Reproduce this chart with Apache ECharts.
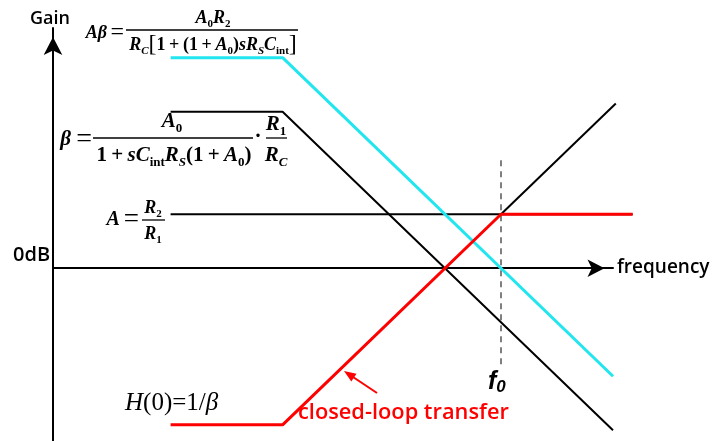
<!DOCTYPE html>
<html>
<head>
<meta charset="utf-8">
<script src="https://cdn.jsdelivr.net/npm/echarts@6/dist/echarts.min.js"></script>
<style>
  html, body { margin: 0; padding: 0; background: #fff; }
  #chart { width: 713px; height: 441px; }
</style>
</head>
<body>
<div id="chart"></div>
<script>
// Asymptotic Bode sketch: x = log10(frequency) in decades, y = gain in dB (20 dB/decade slopes)
const loopGainX = [2.1, 4.1, 10];        // Aβ
const loopGainY = [78, 78, -40];
const betaX = [2.1, 4.1, 10];            // β
const betaY = [58, 58, -60];
const gainAX = [2.1, 10.35];             // A = R2/R1
const gainAY = [20, 20];
const invBetaX = [8, 10.05];             // 1/β above the A level
const invBetaY = [20, 61];
const closedLoopX = [2.1, 4.1, 8, 10.35];  // closed-loop transfer
const closedLoopY = [-58, -58, 20, 20];
const f0X = [8, 8];                      // crossover frequency f0
const f0Y = [40, -37];

// axis ranges
const X_AXIS_END = 10;      // where the frequency arrow ends
const X_DATA_END = 10.35;   // widest plotted point
const Y_MIN = -64, Y_MAX = 89;

const pairs = (xs, ys) => xs.map((x, i) => [x, ys[i]]);

const SERIF = "'Liberation Serif', 'DejaVu Serif', serif";
const SANS = "'Open Sans', 'Liberation Sans', sans-serif";
const TS = '\u2009';  // thin space used around operators

function mathStyles(size) {
  const sub = Math.round(size * 0.6);
  return {
    v: { fontFamily: SERIF, fontSize: size, fontStyle: 'italic', fontWeight: 'bold', fill: '#000', lineHeight: size + 6 },
    n: { fontFamily: SERIF, fontSize: size, fontWeight: 'bold', fill: '#000', lineHeight: size + 6 },
    e: { fontFamily: SERIF, fontSize: Math.round(size * 1.35), fill: '#000', lineHeight: size + 6 },
    b: { fontFamily: SERIF, fontSize: size + 6, fill: '#000', lineHeight: size + 6 },
    s: { fontFamily: SERIF, fontSize: sub, fontStyle: 'italic', fontWeight: 'bold', fill: '#000', lineHeight: sub, verticalAlign: 'bottom' },
    d: { fontFamily: SERIF, fontSize: sub, fontWeight: 'bold', fill: '#000', lineHeight: sub, verticalAlign: 'bottom' }
  };
}

function mathText(x, y, text, size, align) {
  return {
    type: 'text', x: x, y: y, z: 10,
    style: {
      text: text, align: align || 'center', verticalAlign: 'middle',
      fontFamily: SERIF, fontSize: size, fill: '#000',
      rich: mathStyles(size)
    }
  };
}

function bar(x1, x2, y) {
  return { type: 'line', z: 10, shape: { x1: x1, y1: y, x2: x2, y2: y }, style: { stroke: '#000', lineWidth: 1.3 } };
}

function plainText(x, y, text, size, color, extra) {
  return {
    type: 'text', x: x, y: y, z: 10,
    style: Object.assign({
      text: text, align: 'left', verticalAlign: 'middle',
      fontFamily: SANS, fontSize: size, fontWeight: 600, fill: color
    }, extra || {})
  };
}

const lineSeries = (name, data, color, width, extra) => Object.assign({
  name: name, type: 'line', data: data, showSymbol: false, symbol: 'none',
  xAxisIndex: 1, yAxisIndex: 1,
  clip: false, silent: true, animation: false,
  lineStyle: { color: color, width: width }
}, extra || {});

const hiddenParts = { axisTick: { show: false }, axisLabel: { show: false }, splitLine: { show: false } };

// grid 0 carries the drawn axes (arrow ends at X_AXIS_END); grid 1 has the same scale but reaches X_DATA_END
const PX_PER_DECADE = 56;
const GRID_LEFT = 53;
const axisRight = 713 - GRID_LEFT - PX_PER_DECADE * X_AXIS_END;
const dataRight = 713 - GRID_LEFT - PX_PER_DECADE * X_DATA_END;

const chart = echarts.init(document.getElementById('chart'), null, { renderer: 'canvas' });

chart.setOption({
  backgroundColor: '#fff',
  animation: false,
  grid: [
    { left: GRID_LEFT, right: axisRight, top: 28, bottom: 0 },
    { left: GRID_LEFT, right: dataRight, top: 28, bottom: 0 }
  ],
  xAxis: [
    Object.assign({
      gridIndex: 0, type: 'value', min: 0, max: X_AXIS_END,
      axisLine: { onZero: true, lineStyle: { color: '#000', width: 2 }, symbol: ['none', 'arrow'], symbolSize: [13, 17], symbolOffset: [0, -8.5] }
    }, hiddenParts),
    Object.assign({ gridIndex: 1, type: 'value', min: 0, max: X_DATA_END, axisLine: { show: false } }, hiddenParts)
  ],
  yAxis: [
    Object.assign({
      gridIndex: 0, type: 'value', min: Y_MIN, max: Y_MAX,
      axisLine: { show: true, onZero: false, lineStyle: { color: '#000', width: 2 }, symbol: ['none', 'arrow'], symbolSize: [14, 18], symbolOffset: [0, -9] }
    }, hiddenParts),
    Object.assign({ gridIndex: 1, type: 'value', min: Y_MIN, max: Y_MAX, axisLine: { show: false } }, hiddenParts)
  ],
  series: [
    lineSeries('f0', pairs(f0X, f0Y), '#000', 1, { lineStyle: { color: '#000', width: 1, type: [6, 5] } }),
    lineSeries('β', pairs(betaX, betaY), '#000', 2),
    lineSeries('A', pairs(gainAX, gainAY), '#000', 2),
    lineSeries('1/β', pairs(invBetaX, invBetaY), '#000', 2),
    lineSeries('Aβ', pairs(loopGainX, loopGainY), '#22e6ef', 3),
    lineSeries('closed-loop transfer', pairs(closedLoopX, closedLoopY), '#ff0000', 3)
  ],
  graphic: [
    // axis captions
    plainText(30, 19, 'Gain', 18, '#000'),
    plainText(13, 255, '0dB', 20, '#000'),
    plainText(617, 268, 'frequency', 19, '#000'),

    // Aβ = A0 R2 / (RC [1 + (1 + A0) s RS Cint])
    mathText(124, 33, '{v|Aβ}{n|' + TS + '}{e|=}', 18, 'right'),
    bar(126, 298, 30),
    mathText(213, 18, '{v|A}{d|0}{v|R}{d|2}', 18),
    mathText(213, 45, '{v|R}{s|C}{b|[}{n|1' + TS + '+' + TS + '(1' + TS + '+' + TS + '}{v|A}{d|0}{n|)}{v|sR}{s|S}{v|C}{d|int}{b|]}', 18),

    // β = A0 / (1 + s Cint RS (1 + A0)) · R1 / RC
    mathText(92, 140, '{v|β}{n| }{e|=}', 21, 'right'),
    bar(93, 253, 138),
    mathText(172, 122, '{v|A}{d|0}', 21),
    mathText(174, 156, '{n|1' + TS + '+' + TS + '}{v|sC}{d|int}{v|R}{s|S}{n|(1' + TS + '+' + TS + '}{v|A}{d|0}{n|)}', 21),
    mathText(258, 137, '{n|·}', 21),
    bar(266, 287, 138),
    mathText(276, 125, '{v|R}{d|1}', 21),
    mathText(276, 156, '{v|R}{s|C}', 21),

    // A = R2 / R1
    mathText(139, 220, '{v|A}{n|' + TS + '}{e|=}', 20, 'right'),
    bar(142, 165, 220),
    mathText(153, 208, '{v|R}{d|2}', 18),
    mathText(153, 234, '{v|R}{d|1}', 18),

    // H(0) = 1/β
    {
      type: 'text', x: 125, y: 403, z: 10,
      style: {
        text: '{v|H}{n|(0)=1/}{v|β}', align: 'left', verticalAlign: 'middle',
        rich: {
          v: { fontFamily: SERIF, fontSize: 25, fontStyle: 'italic', fill: '#000' },
          n: { fontFamily: SERIF, fontSize: 25, fill: '#000' }
        }
      }
    },

    // f0 label
    {
      type: 'text', x: 488, y: 382, z: 10,
      style: {
        text: '{f|f}{z|0}', align: 'left', verticalAlign: 'middle',
        rich: {
          f: { fontFamily: "'Liberation Sans', sans-serif", fontSize: 25, fontStyle: 'italic', fontWeight: 'bold', fill: '#000', lineHeight: 28 },
          z: { fontFamily: "'Liberation Sans', sans-serif", fontSize: 17, fontStyle: 'italic', fontWeight: 'bold', fill: '#000', lineHeight: 18, verticalAlign: 'bottom' }
        }
      }
    },

    // closed-loop annotation
    plainText(298, 413, 'closed-loop transfer', 21.8, '#ff0000'),
    { type: 'line', z: 10, shape: { x1: 377, y1: 393, x2: 353, y2: 377 }, style: { stroke: '#ff0000', lineWidth: 2 } },
    { type: 'polygon', z: 10, shape: { points: [[344, 371], [356.5, 373.8], [351.3, 381.6]] }, style: { fill: '#ff0000' } }
  ]
});
</script>
</body>
</html>
